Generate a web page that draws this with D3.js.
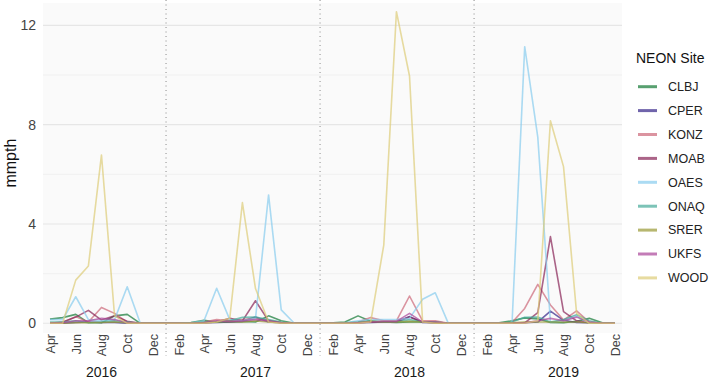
<!DOCTYPE html>
<html>
<head>
<meta charset="utf-8">
<script src="https://cdn.jsdelivr.net/npm/d3@7"></script>
<style>
  body { margin: 0; background: #fff; }
  svg { font-family: "Liberation Sans", Arial, sans-serif; }
</style>
</head>
<body>
<div id="chart"></div>
<script>
// monthly values, Apr 2016 .. Dec 2019 (45 months)
const startMonth = new Date(2016, 3, 1);
const endMonth = new Date(2019, 11, 1);
const years = [2016, 2017, 2018, 2019];
const sites = ["CLBJ", "CPER", "KONZ", "MOAB", "OAES", "ONAQ", "SRER", "UKFS", "WOOD"];
const siteColors = ["#117733", "#332288", "#CC6677", "#882255", "#88CCEE", "#44AA99", "#999933", "#AA4499", "#DDCC77"];
const yTicks = [0, 4, 8, 12];
const yMinor = [2, 6, 10];

const CLBJ = [0.17,0.23,0.36,0.03,0.02,0.3,0.36,0,0, 0,0,0.03,0.12,0.05,0.05,0.08,0.05,0.3,0.1,0,0, 0,0.02,0.05,0.3,0.08,0.05,0.03,0.05,0.05,0.05,0,0, 0,0,0.02,0.1,0.22,0.18,0.03,0.02,0.08,0.2,0.02,0];
const CPER = [0,0,0.03,0.05,0.03,0.03,0,0,0, 0,0,0,0.02,0.03,0.05,0.08,0.25,0.05,0.02,0,0, 0,0,0,0.02,0.03,0.05,0.05,0.27,0.03,0.02,0,0, 0,0,0,0,0.02,0.05,0.49,0.12,0.03,0.02,0,0];
const KONZ = [0,0.02,0.27,0.05,0.64,0.4,0.05,0,0, 0,0,0,0.05,0.15,0.1,0.15,0.2,0.12,0.03,0,0, 0,0,0,0.05,0.23,0.1,0.1,1.1,0.1,0.1,0,0, 0,0,0,0.03,0.6,1.57,0.74,0.13,0.5,0.05,0,0];
const MOAB = [0,0.05,0.25,0.52,0.13,0.3,0.08,0,0, 0,0,0,0.02,0.05,0.2,0.1,0.91,0.1,0.02,0,0, 0,0,0,0.02,0.05,0.05,0.05,0.25,0.05,0.02,0,0, 0,0,0,0,0.02,0.43,3.49,0.47,0.1,0.02,0,0];
const OAES = [0.15,0.15,1.07,0.15,0.1,0.15,1.47,0,0, 0,0,0.02,0.1,1.41,0.15,0.1,0.2,5.17,0.54,0,0, 0,0,0.02,0.1,0.15,0.15,0.15,0.2,0.97,1.23,0,0, 0,0,0,0,11.14,7.5,0.05,0.1,0.3,0,0,0];
const ONAQ = [0.05,0.05,0.1,0.02,0.05,0.1,0.05,0,0, 0,0,0.02,0.05,0.05,0.1,0.24,0.25,0.15,0.05,0,0, 0,0,0.02,0.05,0.1,0.05,0.05,0.15,0.05,0.05,0,0, 0,0,0,0.05,0.24,0.25,0.05,0.15,0.35,0.1,0,0];
const SRER = [0,0,0.02,0.02,0.03,0.05,0.02,0,0, 0,0,0,0.02,0.05,0.08,0.05,0.1,0.05,0.02,0,0, 0,0,0,0.02,0.08,0.05,0.05,0.08,0.05,0.02,0,0, 0,0,0,0.02,0.05,0.05,0.05,0.05,0.05,0.02,0,0];
const UKFS = [0,0.02,0.1,0.1,0.2,0.15,0.03,0,0, 0,0,0,0.02,0.1,0.08,0.1,0.15,0.1,0.02,0,0, 0,0,0,0.02,0.05,0.08,0.08,0.4,0.05,0.05,0,0, 0,0,0,0,0.02,0.1,0.2,0.1,0.25,0.05,0,0];
const WOOD = [0,0,1.74,2.31,6.78,0.3,0,0,0, 0,0,0,0,0.05,0.2,4.86,1.4,0.05,0,0,0, 0,0,0,0,0.05,3.15,12.55,9.96,0.05,0,0,0, 0,0,0,0,0,0.1,8.16,6.31,0.4,0,0,0];

const seriesValues = [CLBJ, CPER, KONZ, MOAB, OAES, ONAQ, SRER, UKFS, WOOD];

const months = d3.timeMonth.range(startMonth, d3.timeMonth.offset(endMonth, 1));

const width = 710;
const height = 379;
const panel = { left: 43, right: 622, top: 3, bottom: 333 };

const svg = d3.select("#chart")
    .append("svg")
    .attr("width", width)
    .attr("height", height);

const x = d3.scaleTime()
    .domain([startMonth, endMonth])
    .range([50, 615]);

const y = d3.scaleLinear()
    .domain([-0.39, 12.9])
    .range([panel.bottom, panel.top]);

const color = d3.scaleOrdinal().domain(sites).range(siteColors);

// panel background
svg.append("rect")
    .attr("x", panel.left)
    .attr("y", panel.top)
    .attr("width", panel.right - panel.left)
    .attr("height", panel.bottom - panel.top)
    .attr("fill", "#fafafa");

svg.append("g").selectAll("line")
    .data(yMinor)
    .enter().append("line")
    .attr("x1", panel.left).attr("x2", panel.right)
    .attr("y1", d => y(d)).attr("y2", d => y(d))
    .attr("stroke", "#ededed")
    .attr("stroke-width", 0.8);

svg.append("g").selectAll("line")
    .data(yTicks)
    .enter().append("line")
    .attr("x1", panel.left).attr("x2", panel.right)
    .attr("y1", d => y(d)).attr("y2", d => y(d))
    .attr("stroke", "#e6e6e6")
    .attr("stroke-width", 1.1);

// year separators
svg.append("g").selectAll("line")
    .data(years.slice(1))
    .enter().append("line")
    .attr("x1", d => x(new Date(d, 0, 1))).attr("x2", d => x(new Date(d, 0, 1)))
    .attr("y1", 0).attr("y2", 356)
    .attr("stroke", "#8a8a8a")
    .attr("stroke-width", 1)
    .attr("stroke-dasharray", "1,3.5");

// y axis
const yAxis = svg.append("g")
    .attr("transform", `translate(${panel.left},0)`)
    .call(d3.axisLeft(y).tickValues(yTicks).tickSize(0).tickPadding(7));
yAxis.select(".domain").remove();
yAxis.selectAll("text")
    .style("font-size", "14px")
    .attr("fill", "#444");

// x axis
const xTickValues = months.filter(d => d.getMonth() % 2 === 1);
const xAxis = svg.append("g")
    .attr("transform", `translate(0,${panel.bottom})`)
    .call(d3.axisBottom(x).tickValues(xTickValues).tickFormat(d3.timeFormat("%b")).tickSize(0));
xAxis.select(".domain").remove();
xAxis.selectAll("text")
    .attr("transform", "rotate(-90)")
    .attr("text-anchor", "end")
    .attr("x", -1)
    .attr("y", 0)
    .attr("dy", "0.35em")
    .style("font-size", "12.5px")
    .attr("fill", "#444");

svg.append("g").selectAll("text")
    .data(years)
    .enter().append("text")
    .attr("x", d => x(new Date(d, 7, 1)))
    .attr("y", 377)
    .attr("text-anchor", "middle")
    .style("font-size", "14px")
    .attr("fill", "#1a1a1a")
    .text(d => d);

svg.append("text")
    .attr("transform", `translate(16,${(y(0) + y(12.9)) / 2}) rotate(-90)`)
    .attr("text-anchor", "middle")
    .style("font-size", "16px")
    .attr("fill", "#111")
    .text("mmpth");

// lines
const line = d3.line()
    .x((d, i) => x(months[i]))
    .y(d => y(d));

svg.append("g").selectAll("path")
    .data(sites)
    .enter().append("path")
    .attr("d", (s, i) => line(seriesValues[i]))
    .attr("fill", "none")
    .attr("stroke", d => color(d))
    .attr("stroke-opacity", 0.7)
    .attr("stroke-width", 1.6)
    .attr("stroke-linejoin", "round");

// legend
const legend = svg.append("g").attr("transform", "translate(636,0)");
legend.append("text")
    .attr("x", 0)
    .attr("y", 63)
    .style("font-size", "14px")
    .attr("fill", "#111")
    .text("NEON Site");

const items = legend.selectAll(".item")
    .data(sites)
    .enter().append("g")
    .attr("class", "item")
    .attr("transform", (d, i) => `translate(0,${86.7 + i * 23.9})`);

items.append("line")
    .attr("x1", 2).attr("x2", 21)
    .attr("stroke", d => color(d))
    .attr("stroke-opacity", 0.7)
    .attr("stroke-width", 3);

items.append("text")
    .attr("x", 32)
    .attr("dy", "0.35em")
    .style("font-size", "12.5px")
    .attr("fill", "#222")
    .text(d => d);
</script>
</body>
</html>
